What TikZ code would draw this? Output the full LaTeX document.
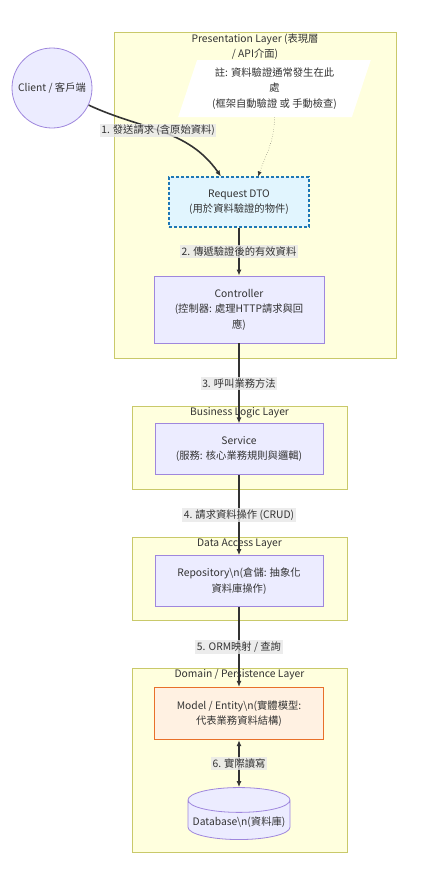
\documentclass[tikz,border=0pt]{standalone}
\usepackage{fontspec}
\setmainfont{Noto Sans CJK TC}
\usepackage{xcolor}
\usepackage{tikz}
\usetikzlibrary{arrows.meta, positioning, shapes.geometric}

\definecolor{layerfill}{HTML}{FFFFDE}
\definecolor{layerline}{HTML}{C9C96A}
\definecolor{nodefill}{HTML}{ECECFF}
\definecolor{nodeline}{HTML}{9F87DD}
\definecolor{dtofill}{HTML}{E1F5FE}
\definecolor{dtoline}{HTML}{1E77B5}
\definecolor{modelfill}{HTML}{FFF1E2}
\definecolor{modelline}{HTML}{E8702A}
\definecolor{labelbg}{HTML}{E8E8E8}
\definecolor{textcol}{HTML}{333333}

\begin{document}
\begin{tikzpicture}[
  x=1pt, y=-1pt,
  font=\fontsize{10.3}{15.5}\selectfont,
  layer/.style={draw=layerline, fill=layerfill, line width=0.8pt},
  title/.style={text=textcol, inner sep=0pt, align=center},
  block/.style={draw=nodeline, fill=nodefill, line width=0.8pt, align=center, text=textcol},
  lbl/.style={fill=labelbg, fill opacity=0.8, text opacity=1, text=textcol, inner sep=1.5pt},
  arrow/.style={-{Latex[length=6pt, width=5pt]}, line width=1.6pt, color=textcol}
]
  \path[use as bounding box, fill=white] (0,0) rectangle (447,884);

  % layers
  \node[layer, minimum width=282pt, minimum height=326pt] (present) at (255,195) {};
  \node[layer, minimum width=215pt, minimum height=83pt] (business) at (239.5,447.5) {};
  \node[layer, minimum width=215pt, minimum height=83pt] (dataacc) at (239.5,578.5) {};
  \node[layer, minimum width=215pt, minimum height=184pt] (domain) at (239.5,760) {};

  \node[title, below=2pt of present.north] (presenttitle) {Presentation Layer (表現層\\/ API介面)};
  \node[title, below=2pt of business.north] (businesstitle) {Business Logic Layer};
  \node[title, below=2pt of dataacc.north] (dataacctitle) {Data Access Layer};
  \node[title, below=2pt of domain.north] (domaintitle) {Domain / Persistence Layer};

  % nodes
  \node[block, circle, minimum size=80pt, inner sep=0pt] (client) at (52,88) {Client / 客戶端};
  \node[trapezium, trapezium left angle=70, trapezium right angle=110, trapezium stretches=true,
        fill=white, minimum width=193pt, minimum height=57pt, align=center, text=textcol, inner sep=0pt]
        (note) at (274.5,88.5) {註: 資料驗證通常發生在此\\處\\(框架自動驗證 或 手動檢查)};
  \node[block, draw=dtoline, fill=dtofill, line width=1.1pt, dash pattern=on 3pt off 2pt,
        minimum width=140pt, minimum height=50pt] (dto) at (239,202)
        {Request DTO\\(用於資料驗證的物件)};
  \node[block, minimum width=170pt, minimum height=67pt, below=48pt of dto] (ctrl)
        {Controller\\(控制器: 處理HTTP請求與回\\應)};
  \node[block, minimum width=168pt, minimum height=51pt, below=80pt of ctrl] (service)
        {Service\\(服務: 核心業務規則與邏輯)};
  \node[block, minimum width=168pt, minimum height=51pt, below=80pt of service] (repo)
        {Repository\textbackslash n(倉儲: 抽象化\\資料庫操作)};
  \node[block, draw=modelline, fill=modelfill, line width=1.2pt, minimum width=169pt, minimum height=52pt,
        below=80pt of repo] (model)
        {Model / Entity\textbackslash n(實體模型:\\代表業務資料結構)};
  \node[block, cylinder, shape border rotate=90, aspect=0.25, minimum width=102pt, minimum height=52pt,
        below=47pt of model] (db) {Database\textbackslash n(資料庫)};

  % connectors
  \draw[arrow] (client.-25) to[out=-25, in=125] node[lbl, pos=0.47] {1. 發送請求 (含原始資料)} ([xshift=-18pt]dto.north);
  \draw[-{Latex[length=5pt, width=4pt]}, dotted, thin, color=textcol] (note.center |- note.south) to[out=-90, in=70] ([xshift=19pt]dto.north);
  \draw[arrow] (dto) -- node[lbl] {2. 傳遞驗證後的有效資料} (ctrl);
  \draw[arrow] (ctrl) -- node[lbl] {3. 呼叫業務方法} (service);
  \draw[arrow] (service) -- node[lbl] {4. 請求資料操作 (CRUD)} (repo);
  \draw[arrow] (repo) -- node[lbl] {5. ORM映射 / 查詢} (model);
  \draw[arrow, {Latex[length=6pt, width=5pt]}-{Latex[length=6pt, width=5pt]}] (model) -- node[lbl] {6. 實際讀寫} (db);
\end{tikzpicture}
\end{document}
